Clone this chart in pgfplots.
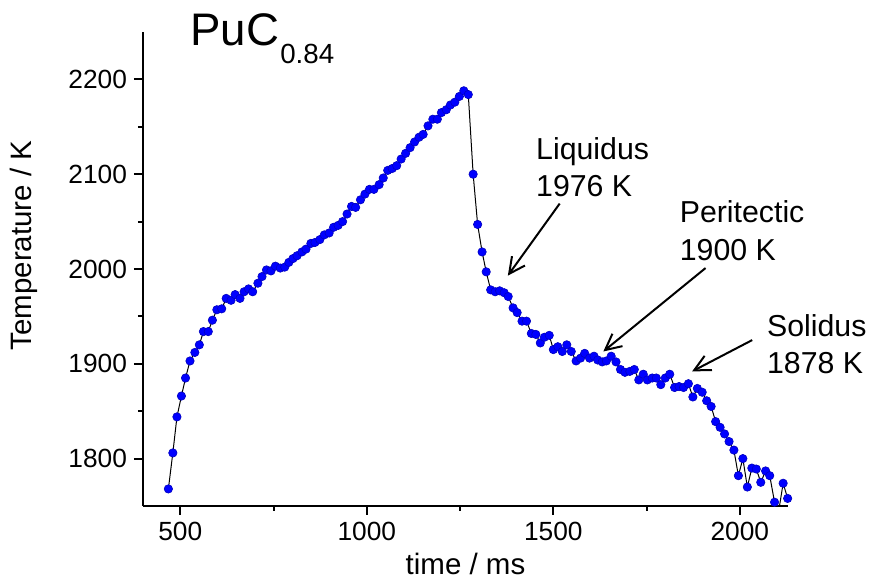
\documentclass[border=0pt]{standalone}
\usepackage{pgfplots}
\pgfplotsset{compat=1.18}
\usepackage{fontspec}
\setmainfont{Liberation Sans}
\usetikzlibrary{arrows.meta}
\pgfplotstableread{
x y
468 1768
480 1806
491 1844
503 1866
514 1885
526 1903
539 1912
551 1920
562 1934
575 1934
586 1946
598 1957
611 1958
623 1969
636 1967
647 1973
660 1969
671 1976
683 1979
694 1976
708 1985
719 1992
731 1999
743 1998
755 2003
768 2001
780 2002
791 2007
802 2011
813 2014
826 2018
837 2021
850 2027
861 2028
874 2031
886 2036
899 2038
911 2044
923 2046
935 2050
947 2058
959 2066
970 2065
983 2073
995 2079
1007 2084
1019 2084
1033 2089
1044 2096
1056 2104
1068 2106
1080 2109
1092 2116
1104 2122
1116 2128
1128 2134
1140 2139
1151 2142
1164 2151
1177 2158
1189 2158
1200 2165
1213 2168
1224 2173
1236 2176
1248 2182
1260 2188
1272 2184
1285 2100
1297 2047
1309 2018
1320 1997
1332 1978
1344 1976
1356 1977
1368 1975
1379 1971
1392 1959
1403 1954
1416 1945
1428 1945
1441 1932
1453 1931
1465 1922
1476 1928
1489 1930
1500 1915
1512 1918
1524 1913
1536 1920
1548 1913
1561 1903
1573 1906
1584 1911
1597 1906
1609 1908
1619 1904
1631 1902
1642 1903
1655 1908
1668 1902
1680 1894
1692 1891
1705 1892
1717 1894
1729 1883
1741 1889
1752 1883
1765 1885
1776 1885
1788 1878
1800 1885
1812 1889
1825 1875
1837 1876
1849 1875
1862 1879
1874 1865
1886 1874
1899 1870
1911 1861
1923 1855
1935 1839
1947 1833
1959 1826
1971 1818
1984 1809
1996 1782
2008 1800
2020 1770
2032 1790
2044 1789
2056 1775
2069 1787
2080 1782
2093 1754
2105 1747
2116 1774
2128 1758
}\datatable
\begin{document}
\begin{tikzpicture}
\begin{axis}[
  at={(0,0)}, anchor=south west,
  scale only axis,
  width=322.5bp, height=237bp,
  xmin=400, xmax=2129, ymin=1750, ymax=2250,
  axis x line*=bottom, axis y line*=left,
  axis line style={line width=1bp, -},
  tick align=outside,
  major tick length=4.5bp, minor tick length=2.5bp,
  every tick/.style={black, line width=1bp},
  xtick={500,1000,1500,2000},
  ytick={1800,1900,2000,2100,2200},
  minor x tick num=1, minor y tick num=1,
  /pgf/number format/assume math mode=true,
  /pgf/number format/set thousands separator={},
  ticklabel style={font=\fontsize{13.2}{15}\selectfont},
  xlabel={time / ms}, ylabel={Temperature / K},
  xlabel style={font=\fontsize{14.8}{17}\selectfont, at={(axis description cs:0.5,0)}, anchor=center, yshift=-29bp},
  ylabel style={font=\fontsize{14.8}{17}\selectfont, at={(axis description cs:0,0.5)}, anchor=center, xshift=11.75bp, yshift=59.75bp},
  clip mode=individual,
]
\addplot[black, line width=0.5bp, mark=*, mark size=2.1bp, mark options={fill=blue, draw=blue!75!black, line width=0.3bp}] table[x=x,y=y] {\datatable};
\node[anchor=base west, inner sep=0pt, font=\fontsize{22.9}{26}\selectfont] at (axis cs:526,2236) {PuC};
\node[anchor=base west, inner sep=0pt, font=\fontsize{13.9}{16}\selectfont] at (axis cs:767,2217) {0.84};
\node[anchor=base west, inner sep=0pt, font=\fontsize{15.2}{18}\selectfont] at (axis cs:1453,2115) {Liquidus};
\node[anchor=base west, inner sep=0pt, font=\fontsize{15.2}{18}\selectfont] at (axis cs:1453,2077) {1976 K};
\node[anchor=base west, inner sep=0pt, font=\fontsize{15.2}{18}\selectfont] at (axis cs:1838,2049) {Peritectic};
\node[anchor=base west, inner sep=0pt, font=\fontsize{15.2}{18}\selectfont] at (axis cs:1838,2009) {1900 K};
\node[anchor=base west, inner sep=0pt, font=\fontsize{15.2}{18}\selectfont] at (axis cs:2072,1929) {Solidus};
\node[anchor=base west, inner sep=0pt, font=\fontsize{15.2}{18}\selectfont] at (axis cs:2072,1890) {1878 K};
\draw[line width=1bp, -{Straight Barb[length=8bp,width=8bp,line width=1bp]}] (axis cs:1517,2069) -- (axis cs:1378,1993);
\draw[line width=1bp, -{Straight Barb[length=8bp,width=8bp,line width=1bp]}] (axis cs:1908,2001) -- (axis cs:1634,1913);
\draw[line width=1bp, -{Straight Barb[length=8bp,width=8bp,line width=1bp]}] (axis cs:2033,1925) -- (axis cs:1872,1892);
\end{axis}
\pgfresetboundingbox
\path[use as bounding box] (-71.5bp,-36bp) rectangle (363bp,253bp);
\end{tikzpicture}
\end{document}
